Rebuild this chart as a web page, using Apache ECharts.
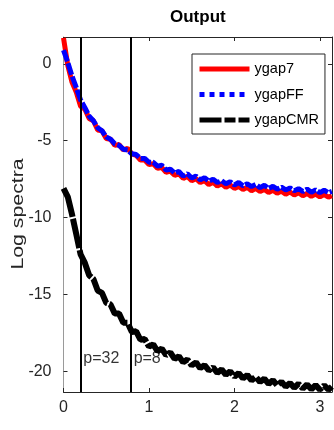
<!DOCTYPE html>
<html>
<head>
<meta charset="utf-8">
<script src="https://cdn.jsdelivr.net/npm/echarts@6/dist/echarts.min.js"></script>
<style>html,body{margin:0;padding:0;background:#fff}#c{width:334px;height:430px}</style>
</head>
<body>
<div id="c"></div>
<script>
// Frequency grid (x)
var freq = [0,0.05,0.10,0.15,0.20,0.25,0.30,0.35,0.40,0.45,0.50,0.55,0.60,0.65,0.70,0.75,0.80,0.85,0.90,0.95,
  1.00,1.05,1.10,1.15,1.20,1.25,1.30,1.35,1.40,1.45,1.50,1.55,1.60,1.65,1.70,1.75,1.80,1.85,1.90,1.95,
  2.00,2.05,2.10,2.15,2.20,2.25,2.30,2.35,2.40,2.45,2.50,2.55,2.60,2.65,2.70,2.75,2.80,2.85,2.90,2.95,
  3.00,3.05,3.10,3.14];
var ygap7 = [1.7,-0.1,-1.2,-1.85,-2.75,-2.95,-3.55,-3.7,-4.3,-4.35,-4.85,-4.9,-5.3,-5.25,-5.6,-5.5,-5.85,-5.95,-6.25,-6.25,
  -6.55,-6.5,-6.8,-6.75,-7.05,-6.98,-7.25,-7.15,-7.45,-7.32,-7.6,-7.47,-7.72,-7.6,-7.85,-7.7,-7.95,-7.8,-8.03,-7.88,
  -8.1,-7.97,-8.17,-8.03,-8.25,-8.1,-8.3,-8.17,-8.37,-8.22,-8.42,-8.28,-8.48,-8.33,-8.53,-8.38,-8.58,-8.43,-8.62,-8.47,
  -8.65,-8.5,-8.67,-8.58];
var ygapFF = [0.9,0.1,-0.8,-1.55,-2.35,-2.85,-3.4,-3.7,-4.15,-4.35,-4.75,-4.9,-5.2,-5.3,-5.55,-5.6,-5.85,-5.9,-6.15,-6.15,
  -6.4,-6.4,-6.65,-6.6,-6.9,-6.85,-7.1,-7.0,-7.3,-7.15,-7.42,-7.3,-7.55,-7.4,-7.63,-7.5,-7.72,-7.6,-7.8,-7.66,
  -7.88,-7.72,-7.93,-7.8,-7.98,-7.85,-8.05,-7.9,-8.1,-7.97,-8.15,-8.02,-8.2,-8.07,-8.25,-8.12,-8.3,-8.15,-8.35,-8.2,
  -8.38,-8.22,-8.38,-8.3];
var ygapCMR = [-8.1,-8.65,-9.8,-11.1,-12.4,-12.95,-13.75,-14.0,-14.75,-14.9,-15.55,-15.65,-16.25,-16.25,-16.85,-16.85,-17.45,-17.4,-17.95,-17.9,
  -18.4,-18.25,-18.7,-18.52,-18.95,-18.78,-19.2,-19.02,-19.42,-19.23,-19.62,-19.42,-19.8,-19.6,-19.95,-19.75,-20.1,-19.88,-20.23,-20.0,
  -20.35,-20.12,-20.47,-20.24,-20.59,-20.36,-20.7,-20.48,-20.82,-20.58,-20.92,-20.68,-21.0,-20.76,-21.07,-20.82,-21.13,-20.86,-21.17,-20.9,
  -21.2,-20.92,-21.2,-21.0];
var cutoffX = [0.19635, 0.7854];
var cutoffLabels = ['p=32', 'p=8'];
var cutoffLabelY = [-19.2, -19.2];
var xTicks = [0, 1, 2, 3];
var yTicks = [-20, -15, -10, -5, 0];
var yTitle = 'Log spectra';
var chartTitle = 'Output';

function zip(xs, ys) { return xs.map(function (x, i) { return [x, ys[i]]; }); }

var FONT = 'Liberation Sans, Arial, Helvetica, sans-serif';
var XMIN = 0, XMAX = 3.1416, YMIN = -21.35, YMAX = 1.75;
var axisCol = '#262626';

var chart = echarts.init(document.getElementById('c'), null, {renderer: 'canvas'});
chart.setOption({
  animation: false,
  backgroundColor: '#fff',
  title: {
    text: chartTitle, left: 170, top: 9, padding: 0,
    textStyle: {fontFamily: FONT, fontSize: 17, fontWeight: 'bold', color: '#000'}
  },
  graphic: [{
    type: 'text', x: 19, y: 214, rotation: Math.PI / 2, scaleX: 1.33, silent: true,
    style: {text: yTitle, font: '16px ' + FONT, fill: axisCol, align: 'center', verticalAlign: 'middle'}
  }],
  grid: {left: 63.5, right: 2, top: 37, bottom: 38, containLabel: false},
  legend: {
    orient: 'vertical', left: 192, top: 54,
    itemWidth: 50, itemHeight: 2, itemGap: 9.5,
    padding: [7, 6, 6, 5],
    backgroundColor: '#fff', borderColor: axisCol, borderWidth: 1, borderRadius: 0,
    itemStyle: {opacity: 0},
    textStyle: {fontFamily: FONT, fontSize: 14.5, color: '#000', lineHeight: 16},
    data: [
      {name: 'ygap7', itemStyle: {opacity: 0}, lineStyle: {color: '#ff0000', width: 5, type: 'solid'}},
      {name: 'ygapFF', itemStyle: {opacity: 0}, lineStyle: {color: '#0000ff', width: 5, type: [5, 5]}},
      {name: 'ygapCMR', itemStyle: {opacity: 0}, lineStyle: {color: '#000', width: 5, type: [22, 3, 11, 3, 12, 3]}}
    ]
  },
  xAxis: [{
    type: 'value', min: XMIN, max: XMAX, position: 'bottom',
    axisLine: {show: true, onZero: false, lineStyle: {color: axisCol, width: 1}},
    axisTick: {show: true, inside: true, length: 4, customValues: xTicks, lineStyle: {color: axisCol}},
    axisLabel: {customValues: xTicks, fontFamily: FONT, fontSize: 16, color: axisCol, margin: 8},
    splitLine: {show: false}
  }, {
    type: 'value', min: XMIN, max: XMAX, position: 'top',
    axisLine: {show: true, onZero: false, lineStyle: {color: axisCol, width: 1}},
    axisTick: {show: true, inside: true, length: 4, customValues: xTicks, lineStyle: {color: axisCol}},
    axisLabel: {show: false},
    splitLine: {show: false}
  }],
  yAxis: [{
    type: 'value', min: YMIN, max: YMAX, position: 'left',
    axisLine: {show: true, onZero: false, lineStyle: {color: '#9a9a9a', width: 1}},
    axisTick: {show: true, inside: true, length: 4, customValues: yTicks, lineStyle: {color: axisCol}},
    axisLabel: {customValues: yTicks, fontFamily: FONT, fontSize: 16, color: axisCol, margin: 12},
    splitLine: {show: false}
  }, {
    type: 'value', min: YMIN, max: YMAX, position: 'right',
    axisLine: {show: true, onZero: false, lineStyle: {color: axisCol, width: 1}},
    axisTick: {show: true, inside: true, length: 4, customValues: yTicks, lineStyle: {color: axisCol}},
    axisLabel: {show: false},
    splitLine: {show: false}
  }],
  series: [
    {
      name: 'ygap7', type: 'line', data: zip(freq, ygap7), symbol: 'none', showSymbol: false,
      lineStyle: {color: '#ff0000', width: 5}, itemStyle: {color: '#ff0000'}, z: 2
    },
    {
      name: 'ygapFF', type: 'line', data: zip(freq, ygapFF), symbol: 'none', showSymbol: false,
      lineStyle: {color: '#0000ff', width: 5, type: [12, 2]}, itemStyle: {color: '#0000ff'}, z: 3
    },
    {
      name: 'ygapCMR', type: 'line', data: zip(freq, ygapCMR), symbol: 'none', showSymbol: false,
      lineStyle: {color: '#000', width: 6, type: [30, 2]}, itemStyle: {color: '#000'}, z: 3
    },
    {
      name: 'cutoffs', type: 'scatter', symbolSize: 0, silent: true, z: 5,
      data: cutoffX.map(function (x, i) { return {value: [x, cutoffLabelY[i]], label: {formatter: cutoffLabels[i]}}; }),
      label: {show: true, position: 'right', distance: 3, fontFamily: FONT, fontSize: 16, color: '#000'},
      markLine: {
        symbol: 'none', silent: true, label: {show: false},
        lineStyle: {color: '#000', width: 2, type: 'solid'},
        data: cutoffX.map(function (x) { return {xAxis: x}; })
      }
    }
  ]
});
</script>
</body>
</html>
